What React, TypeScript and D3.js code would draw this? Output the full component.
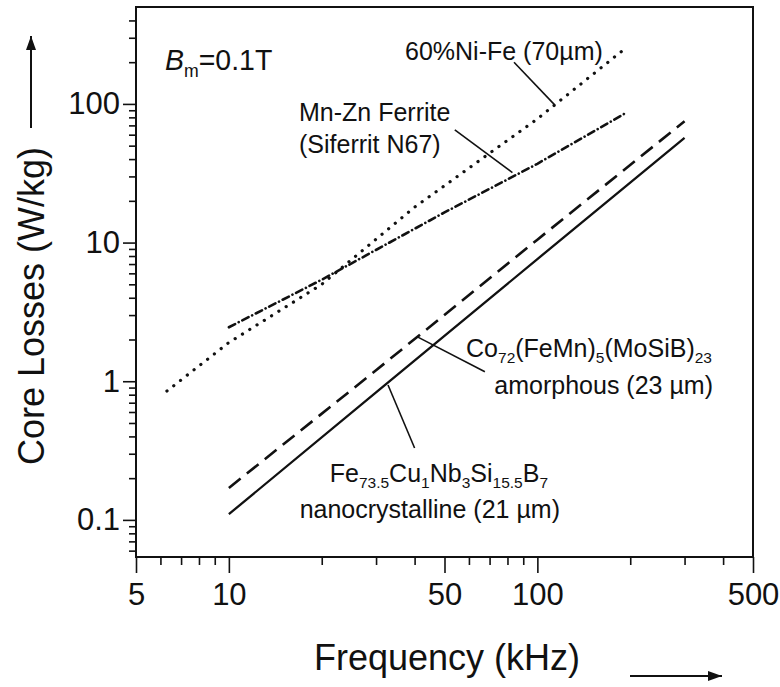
import React, { useEffect, useRef } from 'react';
import * as d3 from 'd3';

// Core losses (W/kg) vs frequency (kHz) at Bm = 0.1T
const niFeFreq = [6.3, 10, 20, 40, 100, 190];
const niFeLoss = [0.85, 1.9, 5.0, 18, 78, 245];
const ferriteFreq = [10, 20, 50, 100, 195];
const ferriteLoss = [2.45, 5.4, 16.5, 37, 87];
const amorphFreq = [10, 30, 100, 300];
const amorphLoss = [0.17, 1.2, 10.5, 75];
const nanoFreq = [10, 30, 100, 300];
const nanoLoss = [0.11, 0.83, 7.6, 57];

// tick values
const xMajor = [5, 10, 50, 100, 500];
const xMinor = [6, 7, 8, 9, 20, 30, 40, 60, 70, 80, 90, 200, 300, 400];
const yMajor = [0.1, 1, 10, 100];
const yMinor = [0.06, 0.07, 0.08, 0.09, 0.2, 0.3, 0.4, 0.5, 0.6, 0.7, 0.8, 0.9,
    2, 3, 4, 5, 6, 7, 8, 9, 20, 30, 40, 50, 60, 70, 80, 90, 200, 300, 400];

// leader lines, [freq, loss] pairs: label end, curve end
const niFeLeader = [[84, 200], [114, 98]];
const ferriteLeader = [[54, 65], [83, 32]];
const amorphLeader = [[67.6, 1.17], [41, 2.08]];
const nanoLeader = [[32.8, 0.94], [40, 0.33]];

type Seg = { t: string; sub?: boolean; italic?: boolean };

const W = 780;
const H = 687;
const FONT = '"Liberation Sans", Arial, Helvetica, sans-serif';

const App: React.FC = () => {
    const svgRef = useRef<SVGSVGElement>(null);

    useEffect(() => {
        const svg = d3.select(svgRef.current);
        svg.selectAll('*').remove();

        const margin = { top: 7, right: 27, bottom: 130, left: 136 };
        const innerW = W - margin.left - margin.right;
        const innerH = H - margin.top - margin.bottom;

        const x = d3.scaleLog().domain([5, 500]).range([0, innerW]);
        const y = d3.scaleLog().domain([0.054, 500]).range([innerH, 0]);

        const g = svg.append('g')
            .attr('transform', `translate(${margin.left},${margin.top})`);

        // frame
        g.append('rect')
            .attr('width', innerW)
            .attr('height', innerH)
            .attr('fill', 'none')
            .attr('stroke', '#111')
            .attr('stroke-width', 2);

        // x axis ticks
        const xAxisG = g.append('g').attr('transform', `translate(0,${innerH})`);
        xAxisG.append('g')
            .call(d3.axisBottom(x).tickValues(xMinor).tickSize(8).tickFormat(() => ''));
        xAxisG.append('g')
            .call(d3.axisBottom(x).tickValues(xMajor).tickSize(16).tickPadding(10)
                .tickFormat(d => String(d)));

        // y axis ticks
        const yAxisG = g.append('g');
        yAxisG.append('g')
            .call(d3.axisLeft(y).tickValues(yMinor).tickSize(7).tickFormat(() => ''));
        yAxisG.append('g')
            .call(d3.axisLeft(y).tickValues(yMajor).tickSize(13).tickPadding(3)
                .tickFormat(d => String(d)));

        g.selectAll('.domain').remove();
        g.selectAll('.tick line').attr('stroke', '#111').attr('stroke-width', 1.6);
        g.selectAll('.tick text')
            .attr('fill', '#111')
            .style('font-family', FONT)
            .style('font-size', '31px');

        // curves
        const line = d3.line<[number, number]>()
            .x(d => x(d[0]))
            .y(d => y(d[1]));

        const series = [
            { f: niFeFreq, v: niFeLoss, dash: '0.1,8.5', width: 3.2, cap: 'round' },
            { f: ferriteFreq, v: ferriteLoss, dash: '7,4,0.1,4', width: 2.6, cap: 'round' },
            { f: amorphFreq, v: amorphLoss, dash: '15,8', width: 2.6, cap: 'butt' },
            { f: nanoFreq, v: nanoLoss, dash: null, width: 2.3, cap: 'butt' },
        ];

        series.forEach(s => {
            const pts = s.f.map((f, i) => [f, s.v[i]] as [number, number]);
            g.append('path')
                .datum(pts)
                .attr('d', line)
                .attr('fill', 'none')
                .attr('stroke', '#111')
                .attr('stroke-width', s.width)
                .attr('stroke-linecap', s.cap)
                .attr('stroke-dasharray', s.dash);
        });

        // leader lines
        [niFeLeader, ferriteLeader, amorphLeader, nanoLeader].forEach(l => {
            g.append('path')
                .datum(l as [number, number][])
                .attr('d', line)
                .attr('fill', 'none')
                .attr('stroke', '#111')
                .attr('stroke-width', 1.6);
        });

        // rich text helper (subscripts)
        const richText = (px: number, py: number, segs: Seg[], size: number,
                          anchor = 'start', sx = 1) => {
            const t = svg.append('text')
                .attr('transform', `translate(${px},${py}) scale(${sx},1)`)
                .attr('text-anchor', anchor)
                .attr('fill', '#111')
                .style('font-family', FONT)
                .style('font-size', `${size}px`);
            let shifted = false;
            segs.forEach(s => {
                const ts = t.append('tspan').text(s.t);
                if (s.italic) ts.style('font-style', 'italic');
                if (s.sub && !shifted) {
                    ts.attr('dy', size * 0.22).style('font-size', `${size * 0.62}px`);
                    shifted = true;
                } else if (s.sub) {
                    ts.style('font-size', `${size * 0.62}px`);
                } else if (shifted) {
                    ts.attr('dy', -size * 0.22);
                    shifted = false;
                }
            });
            return t;
        };

        richText(165, 70, [{ t: 'B', italic: true }, { t: 'm', sub: true }, { t: '=0.1T' }], 30, 'start', 0.95);
        richText(405, 60, [{ t: '60%Ni-Fe (70µm)' }], 25);
        richText(299, 121, [{ t: 'Mn-Zn Ferrite' }], 25);
        richText(299, 153, [{ t: '(Siferrit N67)' }], 25);
        richText(712, 357, [
            { t: 'Co' }, { t: '72', sub: true }, { t: '(FeMn)' }, { t: '5', sub: true },
            { t: '(MoSiB)' }, { t: '23', sub: true },
        ], 25, 'end');
        richText(713, 394, [{ t: 'amorphous (23 µm)' }], 25, 'end');
        richText(548, 482, [
            { t: 'Fe' }, { t: '73.5', sub: true }, { t: 'Cu' }, { t: '1', sub: true },
            { t: 'Nb' }, { t: '3', sub: true }, { t: 'Si' }, { t: '15.5', sub: true },
            { t: 'B' }, { t: '7', sub: true },
        ], 25, 'end');
        richText(560, 518, [{ t: 'nanocrystalline (21 µm)' }], 25, 'end');

        // axis titles
        svg.append('text')
            .attr('x', 447)
            .attr('y', 670)
            .attr('text-anchor', 'middle')
            .attr('fill', '#111')
            .style('font-family', FONT)
            .style('font-size', '36px')
            .text('Frequency (kHz)');

        svg.append('text')
            .attr('transform', 'translate(44,306) rotate(-90)')
            .attr('text-anchor', 'middle')
            .attr('fill', '#111')
            .style('font-family', FONT)
            .style('font-size', '36px')
            .text('Core Losses (W/kg)');

        // arrows
        const arrow = (x1: number, y1: number, x2: number, y2: number) => {
            svg.append('line')
                .attr('x1', x1).attr('y1', y1).attr('x2', x2).attr('y2', y2)
                .attr('stroke', '#111').attr('stroke-width', 2);
            const ang = Math.atan2(y2 - y1, x2 - x1);
            const len = 14, half = 5;
            const bx = x2 - len * Math.cos(ang), by = y2 - len * Math.sin(ang);
            const px = -Math.sin(ang) * half, py = Math.cos(ang) * half;
            svg.append('path')
                .attr('d', `M${x2},${y2}L${bx + px},${by + py}L${bx - px},${by - py}Z`)
                .attr('fill', '#111');
        };
        arrow(31, 128, 31, 36);
        arrow(630, 676, 722, 676);
    }, []);

    return (
        <svg
            ref={svgRef}
            width={W}
            height={H}
            style={{ position: 'absolute', left: 0, top: 0, background: '#fff' }}
        />
    );
};

export default App;
